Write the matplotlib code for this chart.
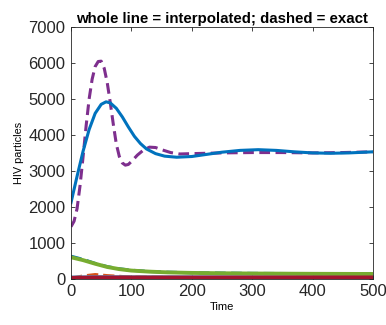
import numpy as np
import matplotlib
matplotlib.use("Agg")
import matplotlib.pyplot as plt

plt.rcParams['font.family'] = ['Liberation Sans', 'DejaVu Sans']

# virus, interpolated model
t_v = [0, 10, 20, 30, 40, 50, 58, 65, 75, 85, 95, 105, 115, 125, 140, 155, 175,
       200, 225, 250, 280, 310, 340, 370, 400, 430, 460, 500]
v_interp = [2120, 2850, 3550, 4150, 4600, 4850, 4920, 4890, 4740, 4500, 4220, 3960,
            3760, 3610, 3480, 3410, 3380, 3400, 3460, 3520, 3570, 3590, 3570, 3530,
            3500, 3490, 3500, 3530]

# virus, exact model
t_ve = [0, 5, 10, 15, 20, 25, 30, 35, 40, 45, 50, 55, 60, 65, 70, 75, 80, 85, 90,
        95, 100, 110, 120, 130, 140, 150, 165, 180, 200, 250, 300, 350, 400, 450, 500]
v_exact = [1450, 1600, 1950, 2600, 3400, 4250, 5000, 5550, 5900, 6040, 6050, 5850,
           5450, 4900, 4300, 3750, 3400, 3220, 3160, 3180, 3260, 3440, 3580, 3660,
           3650, 3590, 3510, 3470, 3480, 3500, 3510, 3510, 3500, 3510, 3530]

# cells
t_c = [0, 20, 40, 60, 80, 100, 130, 160, 200, 250, 300, 400, 500]
t_interp = [600, 520, 420, 330, 270, 230, 200, 180, 165, 155, 148, 140, 135]
t_exact = [630, 540, 430, 340, 280, 240, 205, 185, 170, 160, 152, 145, 145]
i_interp = [30, 35, 40, 40, 40, 40, 40, 40, 40, 40, 40, 40, 40]
i_exact = [20, 80, 120, 90, 70, 50, 45, 40, 35, 35, 30, 30, 30]
m_interp = [50, 55, 60, 60, 58, 55, 55, 55, 55, 55, 55, 55, 55]

fig = plt.figure(figsize=(3.86, 3.25), dpi=100)
ax = fig.add_axes([0.184, 0.142, 0.782, 0.775])

lw = 2.2
ax.plot(t_c, i_exact, '--', color='#D95319', lw=lw)
ax.plot(t_c, m_interp, '-', color='#4DBEEE', lw=lw)
ax.plot(t_c, t_exact, '--', color='#0072BD', lw=lw, dashes=(3.5, 1.8))
ax.plot(t_c, t_interp, '-', color='#77AC30', lw=lw + 0.6)
ax.plot(t_c, i_interp, '-', color='#A2142F', lw=lw + 0.6)
ax.plot(t_ve, v_exact, '--', color='#7E2F8E', lw=lw, dashes=(3.5, 1.8))
ax.plot(t_v, v_interp, '-', color='#0072BD', lw=lw)

ax.set_xlim(0, 500)
ax.set_ylim(0, 7000)
ax.set_xticks(range(0, 501, 100))
ax.set_yticks(range(0, 7001, 1000))
ax.tick_params(direction='in', top=True, right=True, labelsize=12,
               colors='#262626', length=3, width=0.6, pad=4)
for s in ax.spines.values():
    s.set_color('#262626')
    s.set_linewidth(0.6)

ax.set_xlabel('Time', fontsize=8, labelpad=2)
ax.set_ylabel('HIV particles', fontsize=7.8, labelpad=3)
ax.set_title('whole line = interpolated; dashed = exact', fontsize=10.8,
             fontweight='bold', pad=3)

fig.savefig('out.png', dpi=100)
